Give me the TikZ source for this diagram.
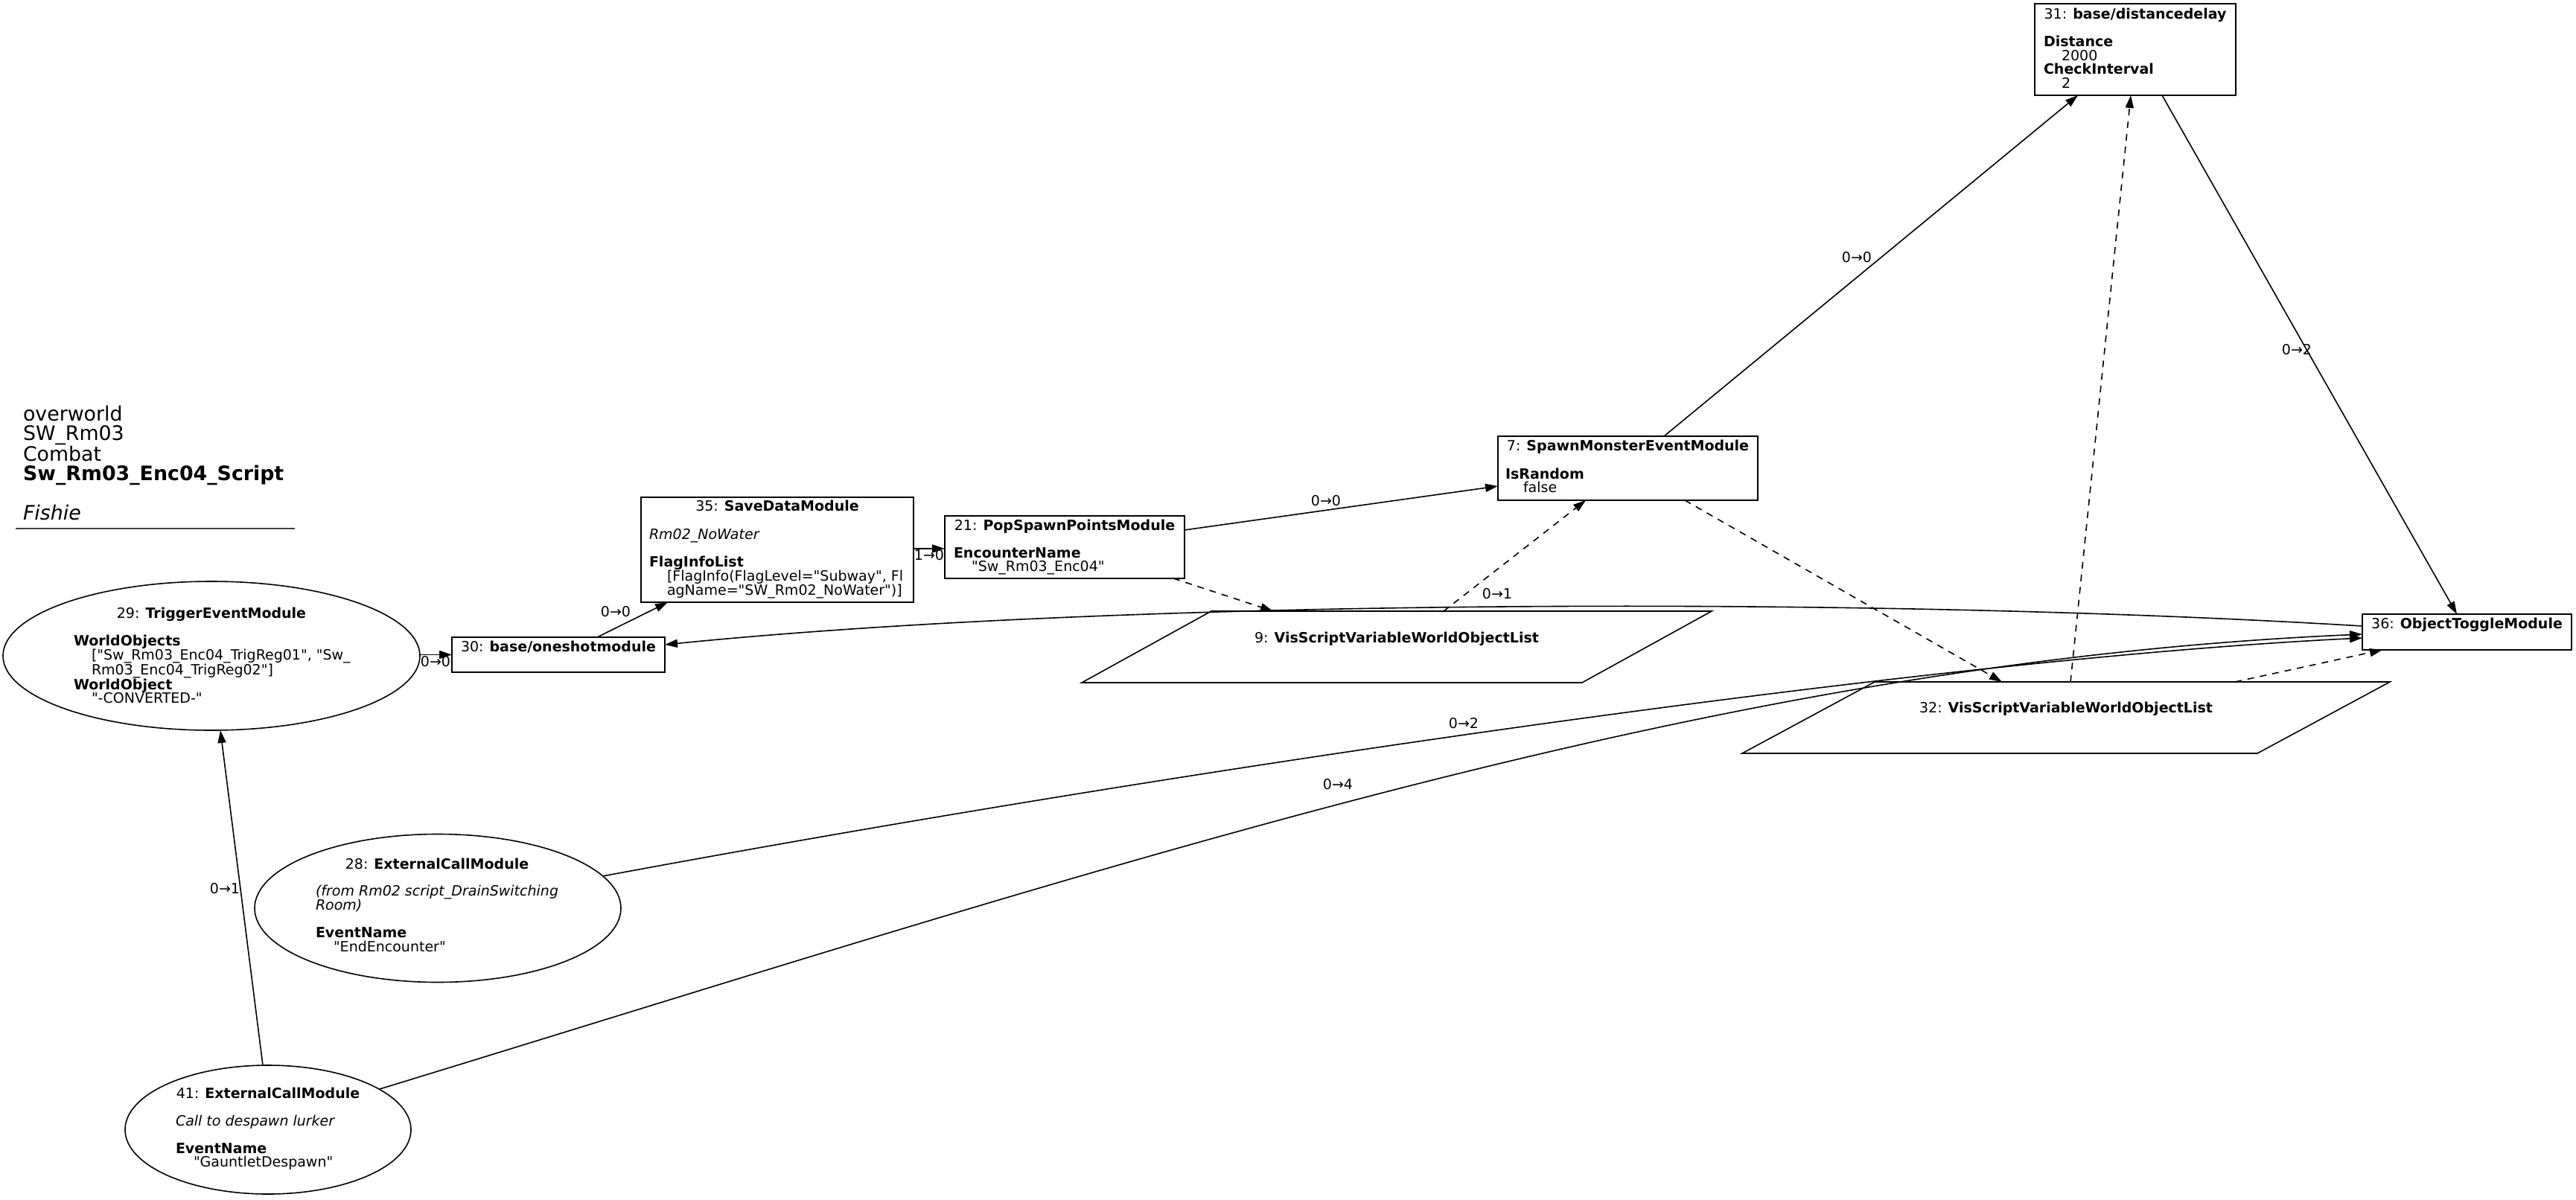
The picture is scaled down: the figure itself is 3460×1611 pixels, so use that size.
\documentclass[tikz,border=0pt]{standalone}
\usepackage{fontspec}
\setmainfont{DejaVu Sans}[Ligatures=TeXOff]
\usetikzlibrary{arrows.meta,calc,shapes.geometric}

% one line of a text block, an indented value line, an empty line
\newcommand\tline[1]{\hbox{#1}}
\newcommand\tval[1]{\hbox{\hskip24pt #1}}
\newcommand\tblank{\hbox{}}
\newcommand\tblock[1]{\vtop{#1}}

\begin{document}
\begin{tikzpicture}[x=1pt,y=-1pt,
  every node/.style={inner sep=0pt, outer sep=0pt},
  nfont/.style={font=\fontsize{19pt}{18.5pt}\selectfont},
  box/.style={draw, line width=1.6pt, rectangle},
  oval/.style={draw, line width=1.6pt, ellipse},
  frame/.style={draw=none, rectangle},
  para/.style={line width=1.6pt},
  ttl/.style={nfont, anchor=base},
  body/.style={nfont, anchor=base west},
  elabel/.style={nfont, anchor=center},
  link/.style={line width=1.6pt, -{Triangle[length=17pt,width=11pt]}},
  dlink/.style={link, dash pattern=on 9pt off 8pt}]

\fill[white] (0,0) rectangle (3460,1611);
\useasboundingbox (0,0) rectangle (3460,1611);

% header
\node[anchor=base west, font=\fontsize{26.8pt}{26.5pt}\selectfont] (hdr) at (31,565)
  {\tblock{\tline{overworld}\tline{SW\_Rm03}\tline{Combat}\tline{\textbf{Sw\_Rm03\_Enc04\_Script}}\tblank\tline{\textit{Fishie}}}};
\draw[line width=1.6pt, black!75] (21,710) -- (396,710);

% modules
\node[oval, minimum width=560pt, minimum height=200pt] (n29) at (284,881) {};
\node[ttl] (n29t) at (284,830) {29: \textbf{TriggerEventModule}};
\node[body] (n29b) at (99,867) {\tblock{\tline{\textbf{WorldObjects}}\tval{["Sw\_Rm03\_Enc04\_TrigReg01", "Sw\_}\tval{Rm03\_Enc04\_TrigReg02"]}\tline{\textbf{WorldObject}}\tval{"-CONVERTED-"}}};

\node[box, minimum width=286pt, minimum height=47pt] (n30) at (750,879.5) {};
\node[ttl] (n30t) at (750,875) {30: \textbf{base/oneshotmodule}};

\node[box, minimum width=366pt, minimum height=141pt] (n35) at (1044,738.5) {};
\node[ttl] (n35t) at (1044,686) {35: \textbf{SaveDataModule}};
\node[body] (n35b) at (872,724) {\tblock{\tline{\textit{Rm02\_NoWater}}\tblank\tline{\textbf{FlagInfoList}}\tval{[FlagInfo(FlagLevel="Subway", Fl}\tval{agName="SW\_Rm02\_NoWater")]}}};

\node[box, minimum width=322pt, minimum height=84pt] (n21) at (1430,735) {};
\node[ttl] (n21t) at (1430,712) {21: \textbf{PopSpawnPointsModule}};
\node[body] (n21b) at (1281,749) {\tblock{\tline{\textbf{EncounterName}}\tval{"Sw\_Rm03\_Enc04"}}};

\node[box, minimum width=349pt, minimum height=86pt] (n7) at (2186.5,629) {};
\node[ttl] (n7t) at (2186.5,605) {7: \textbf{SpawnMonsterEventModule}};
\node[body] (n7b) at (2022,643) {\tblock{\tline{\textbf{IsRandom}}\tval{false}}};

\node[box, minimum width=270pt, minimum height=123pt] (n31) at (2868,66.5) {};
\node[ttl] (n31t) at (2868,26) {31: \textbf{base/distancedelay}};
\node[body] (n31b) at (2745,63) {\tblock{\tline{\textbf{Distance}}\tval{2000}\tline{\textbf{CheckInterval}}\tval{2}}};

\node[box, minimum width=281pt, minimum height=48pt] (n36) at (3313.5,849) {};
\node[ttl] (n36t) at (3313.5,844) {36: \textbf{ObjectToggleModule}};

\node[frame, minimum width=846pt, minimum height=96pt] (n9) at (1876,869) {};
\draw[para] ($(n9.north west)+(174,0)$) -- (n9.north east) -- ($(n9.south east)+(-174,0)$) -- (n9.south west) -- cycle;
\node[ttl] (n9t) at (1876,863) {9: \textbf{VisScriptVariableWorldObjectList}};

\node[frame, minimum width=870pt, minimum height=96pt] (n32) at (2775,964) {};
\draw[para] ($(n32.north west)+(178,0)$) -- (n32.north east) -- ($(n32.south east)+(-178,0)$) -- (n32.south west) -- cycle;
\node[ttl] (n32t) at (2775,957) {32: \textbf{VisScriptVariableWorldObjectList}};

\node[oval, minimum width=492pt, minimum height=199pt] (n28) at (588,1220) {};
\node[ttl] (n28t) at (587,1167) {28: \textbf{ExternalCallModule}};
\node[body] (n28b) at (424,1203) {\tblock{\tline{\textit{(from Rm02 script\_DrainSwitching}}\tline{\textit{Room)}}\tblank\tline{\textbf{EventName}}\tval{"EndEncounter"}}};

\node[oval, minimum width=384pt, minimum height=173pt] (n41) at (360,1517.5) {};
\node[ttl] (n41t) at (360,1475) {41: \textbf{ExternalCallModule}};
\node[body] (n41b) at (236,1512) {\tblock{\tline{\textit{Call to despawn lurker}}\tblank\tline{\textbf{EventName}}\tval{"GauntletDespawn"}}};

% connections
\draw[link] ($(n41.north)+(-7,0)$) -- ($(n29.south)+(12,0)$);
\node[elabel] (l41) at (302,1194) {0→1};

\draw[link] ($(n29.east)+(0,-1.5)$) -- (n30.west);
\node[elabel] (l29) at (585,889) {0→0};

\draw[link] ($(n30.north west)+(195,0)$) -- ($(n35.south west)+(36,0)$);
\node[elabel] (l30) at (827,822) {0→0};

\draw[link] ($(n35.east)+(0,-1.5)$) -- ($(n21.west)+(0,2)$);
\node[elabel] (l35) at (1248,746) {1→0};

\draw[link] ($(n21.east)+(0,-23)$) -- ($(n7.west)+(0,24)$);
\node[elabel] (l21) at (1781,673) {0→0};

\draw[dlink] ($(n21.south east)+(-15,0)$) -- ($(n9.north west)+(257,0)$);
\draw[dlink] ($(n9.north west)+(486,0)$) -- ($(n7.south west)+(118,0)$);

\draw[link] ($(n7.north west)+(223,0)$) -- ($(n31.south west)+(58,0)$);
\node[elabel] (l7) at (2494,346) {0→0};

\draw[link] ($(n31.south west)+(171,0)$) -- ($(n36.north west)+(127,0)$);
\node[elabel] (l31) at (3085,470) {0→2};

\draw[dlink] ($(n7.south west)+(251,0)$) -- ($(n32.north west)+(349,0)$);
\draw[dlink] ($(n32.north west)+(441,0)$) -- ($(n31.south west)+(129,0)$);
\draw[dlink] ($(n32.north west)+(662,0)$) -- ($(n36.south west)+(27,0)$);

\draw[link] (n28.11) .. controls (1600,1030) and (2600,885) .. ($(n36.west)+(0,8)$);
\node[elabel] (l28) at (1966,972) {0→2};

\draw[link] (n41.20) .. controls (1500,1160) and (2300,890) .. ($(n36.west)+(0,3)$);
\node[elabel] (l41b) at (1797,1054) {0→4};

\draw[link] ($(n36.west)+(0,-8)$) .. controls (2500,800) and (1500,805) .. ($(n30.east)+(0,-13.5)$);
\node[elabel] (l36) at (2011,798) {0→1};

\end{tikzpicture}
\end{document}
